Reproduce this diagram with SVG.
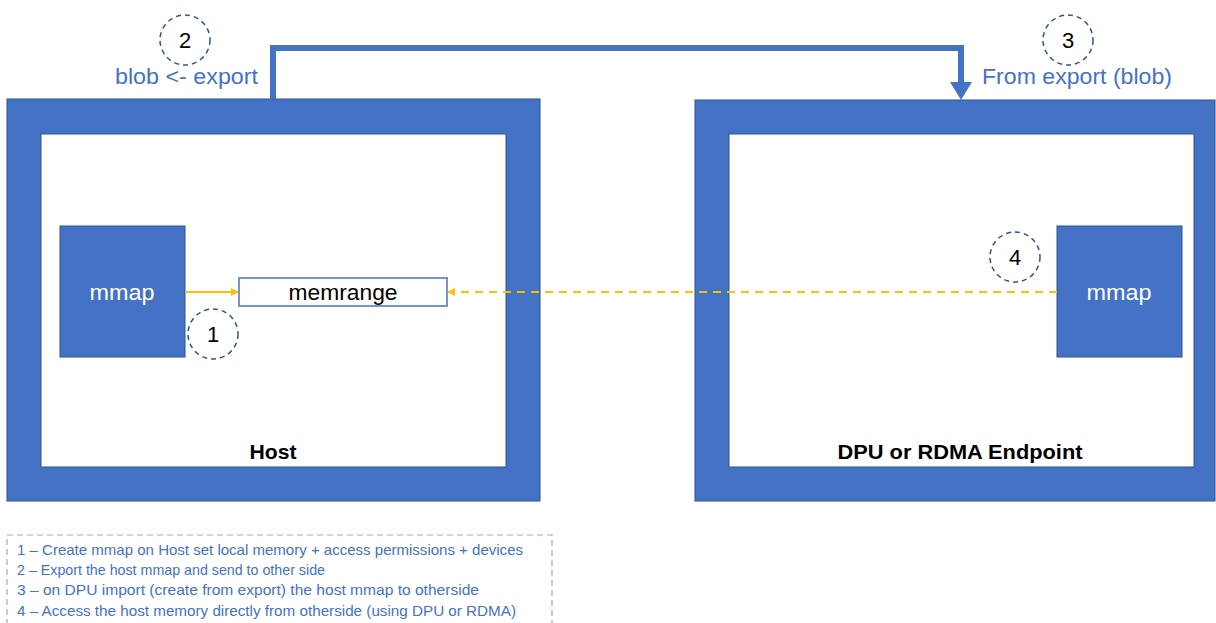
<svg xmlns="http://www.w3.org/2000/svg" width="1216" height="623" viewBox="0 0 1216 623">
  <style>
    .frame { fill: #4472C4; stroke: #2F528F; stroke-width: 1; }
    .inner { fill: #FFFFFF; stroke: #2F528F; stroke-width: 1; }
    .block { fill: #4472C4; stroke: #2F528F; stroke-width: 1; }
    .step { fill: #FFFFFF; stroke: #2F528F; stroke-width: 1.5; stroke-dasharray: 5 4; }
    .num { font-family: "Liberation Sans", Arial, sans-serif; font-size: 22px; fill: #000; text-anchor: middle; }
    .lbl { font-family: "Liberation Sans", Arial, sans-serif; font-size: 22px; fill: #4472C4; }
    .title { font-family: "Liberation Sans", Arial, sans-serif; font-size: 21px; font-weight: bold; fill: #000; text-anchor: middle; }
    .wtext { font-family: "Liberation Sans", Arial, sans-serif; font-size: 22px; fill: #FFFFFF; text-anchor: middle; }
    .legend { font-family: "Liberation Sans", Arial, sans-serif; font-size: 15px; fill: #4472C4; }
  </style>
  <defs>
    <marker id="ah-yellow" viewBox="0 0 10 10" refX="9" refY="5" markerWidth="4" markerHeight="4" orient="auto-start-reverse">
      <path d="M0,0 L10,5 L0,10 z" fill="#FFC000"/>
    </marker>
  </defs>

  <rect width="1216" height="623" fill="#FFFFFF"/>

  <g id="host">
    <rect class="frame" x="7" y="99" width="533" height="402"/>
    <rect class="inner" x="41" y="134" width="465" height="333"/>
    <text class="title" x="273" y="459" textLength="47" lengthAdjust="spacingAndGlyphs">Host</text>
  </g>

  <g id="dpu">
    <rect class="frame" x="695" y="100" width="520" height="401"/>
    <rect class="inner" x="729" y="134" width="465" height="333"/>
    <text class="title" x="960" y="459" textLength="245" lengthAdjust="spacingAndGlyphs">DPU or RDMA Endpoint</text>
  </g>

  <g id="host-mmap">
    <rect class="block" x="60" y="226" width="125" height="131"/>
    <text class="wtext" x="122" y="300" textLength="65" lengthAdjust="spacingAndGlyphs">mmap</text>
  </g>

  <g id="memrange">
    <rect x="239" y="278" width="208" height="28" fill="#FFFFFF" stroke="#4472C4" stroke-width="1.5"/>
    <text x="343" y="300" font-family="'Liberation Sans', Arial, sans-serif" font-size="22" fill="#000" text-anchor="middle" textLength="109" lengthAdjust="spacingAndGlyphs">memrange</text>
  </g>

  <g id="dpu-mmap">
    <rect class="block" x="1057" y="226" width="125" height="131"/>
    <text class="wtext" x="1119" y="300" textLength="65" lengthAdjust="spacingAndGlyphs">mmap</text>
  </g>

  <g id="connectors">
    <path d="M185,292 H238" fill="none" stroke="#FFC000" stroke-width="2" marker-end="url(#ah-yellow)"/>
    <path d="M1057,292 H448" fill="none" stroke="#FFC000" stroke-width="2" stroke-dasharray="8 6" marker-end="url(#ah-yellow)"/>
    <path d="M273,99 V48 H961 V84" fill="none" stroke="#4472C4" stroke-width="6"/>
    <path d="M950,82 L972,82 L961,100 z" fill="#4472C4"/>
  </g>

  <g id="step-1">
    <circle class="step" cx="213" cy="334" r="25"/>
    <text class="num" x="213" y="342">1</text>
  </g>
  <g id="step-2">
    <circle class="step" cx="185" cy="40" r="25"/>
    <text class="num" x="185" y="48">2</text>
    <text class="lbl" x="115" y="84" textLength="143" lengthAdjust="spacingAndGlyphs">blob &lt;- export</text>
  </g>
  <g id="step-3">
    <circle class="step" cx="1068" cy="40" r="25"/>
    <text class="num" x="1068" y="48">3</text>
    <text class="lbl" x="982" y="84" textLength="190" lengthAdjust="spacingAndGlyphs">From export (blob)</text>
  </g>
  <g id="step-4">
    <circle class="step" cx="1015" cy="257" r="25"/>
    <text class="num" x="1015" y="265">4</text>
  </g>

  <g id="legend">
    <rect x="7" y="535" width="545" height="100" fill="none" stroke="#8FAADC" stroke-width="1.2" stroke-dasharray="6 4"/>
    <text class="legend" x="17" y="555" textLength="506" lengthAdjust="spacingAndGlyphs">1 – Create mmap on Host set local memory + access permissions + devices</text>
    <text class="legend" x="17" y="575" textLength="308" lengthAdjust="spacingAndGlyphs">2 – Export the host mmap and send to other side</text>
    <text class="legend" x="17" y="595" textLength="462" lengthAdjust="spacingAndGlyphs">3 – on DPU import (create from export) the host mmap to otherside</text>
    <text class="legend" x="17" y="616" textLength="499" lengthAdjust="spacingAndGlyphs">4 – Access the host memory directly from otherside (using DPU or RDMA)</text>
  </g>
</svg>
